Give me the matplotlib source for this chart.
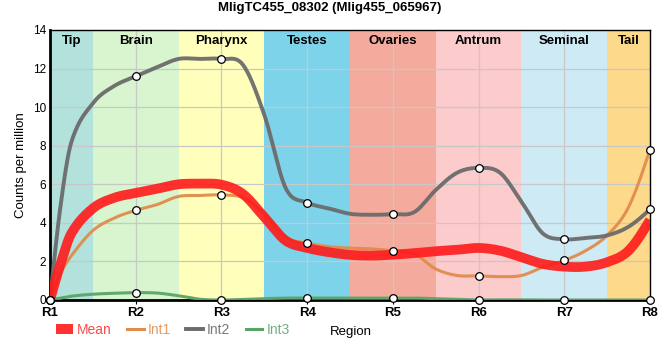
import numpy as np
import matplotlib
matplotlib.use("Agg")
import matplotlib.pyplot as plt
from matplotlib.patches import Patch
from matplotlib.lines import Line2D

plt.rcParams['font.family'] = ['Liberation Sans', 'DejaVu Sans']

title = "MligTC455_08302 (Mlig455_065967)"
regions = ["R1", "R2", "R3", "R4", "R5", "R6", "R7", "R8"]
bands = ["Tip", "Brain", "Pharynx", "Testes", "Ovaries", "Antrum", "Seminal", "Tail"]
band_colors = ["#b3e1dc", "#d8f5d0", "#ffffbb", "#7dd3ea", "#f4ab9d", "#fccbcc", "#ceeaf4", "#fdd98c"]

# values at the regions (marked points)
mean = [0, 5.55, 5.98, 2.70, 2.35, 2.70, 1.73, 4.15]
int1 = [0, 4.65, 5.45, 2.95, 2.55, 1.25, 2.05, 7.80]
int2 = [0, 11.6, 12.5, 5.05, 4.45, 6.85, 3.15, 4.70]
int3 = [0, 0.38, 0.0, 0.10, 0.10, 0.0, 0.0, 0.0]

# curve values read between neighbouring regions (at 1/4, 1/2, 3/4), not marked
mean_between = [(3.46, 4.75, 5.3), (5.77, 6.0, 6.03), (5.5, 4.3, 3.08), (2.48, 2.34, 2.3),
                (2.43, 2.53, 2.6), (2.56, 2.22, 1.87), (1.73, 1.96, 2.56)]
int1_between = [(2.3, 3.6, 4.25), (4.95, 5.37, 5.42), (5.3, 4.47, 3.26), (2.77, 2.69, 2.65),
                (2.39, 1.61, 1.27), (1.21, 1.27, 1.7), (2.56, 3.35, 4.82)]
int2_between = [(8.2, 10.2, 11.1), (12.07, 12.5, 12.5), (12.2, 9.6, 5.8), (4.75, 4.47, 4.42),
                (4.56, 5.7, 6.6), (6.6, 5.1, 3.45), (3.22, 3.35, 3.8)]
int3_between = [(0.2, 0.3, 0.35), (0.36, 0.22, 0.04), (0.03, 0.07, 0.1), (0.1, 0.1, 0.1),
                (0.1, 0.07, 0.03), (0.01, 0.0, 0.0), (0.0, 0.0, 0.0)]
# steep start: value read at 1/8 of the way from R1 to R2
start = {"mean": 1.9, "int1": 1.4, "int2": 4.95, "int3": 0.1}


def smooth(x, y, xs):
    # Catmull-Rom style cubic Hermite through the read points, natural ends
    x = np.asarray(x, float)
    y = np.asarray(y, float)
    h = np.diff(x)
    d = np.diff(y) / h
    m = np.empty_like(y)
    m[1:-1] = (y[2:] - y[:-2]) / (x[2:] - x[:-2])
    m[0] = (3 * d[0] - m[1]) / 2
    m[-1] = (3 * d[-1] - m[-2]) / 2
    idx = np.clip(np.searchsorted(x, xs) - 1, 0, len(x) - 2)
    t = (xs - x[idx]) / h[idx]
    h00 = 2 * t**3 - 3 * t**2 + 1
    h10 = t**3 - 2 * t**2 + t
    h01 = -2 * t**3 + 3 * t**2
    h11 = t**3 - t**2
    return h00 * y[idx] + h10 * h[idx] * m[idx] + h01 * y[idx + 1] + h11 * h[idx] * m[idx + 1]


def merge(vals, between, first):
    out = []
    for i, v in enumerate(vals):
        out.append(v)
        if i == 0:
            out.append(first)
        if i < len(between):
            out.extend(between[i])
    return out


xr = np.arange(len(regions))
xq = np.arange(0, len(regions) - 0.9, 0.25)
xk = np.insert(xq, 1, 0.125)
xs = np.linspace(0, len(regions) - 1, 900)

fig = plt.figure(figsize=(6.6, 3.6), dpi=100)
ax = fig.add_axes([50 / 660, 60 / 360, 600 / 660, 270 / 360])

# background bands
for i, (name, col) in enumerate(zip(bands, band_colors)):
    lo = max(i - 0.5, 0)
    hi = min(i + 0.5, len(regions) - 1)
    ax.axvspan(lo, hi, color=col, lw=0, zorder=0)
    ax.text((lo + hi) / 2, 0.96, name, transform=ax.get_xaxis_transform(),
            ha='center', va='center', fontsize=9.5, fontweight='bold', zorder=5)

ax.grid(True, color='#c8c8c8', lw=0.9, zorder=1)

series = [
    ("int1", int1, int1_between, "#e08c4c", 2.2),
    ("int2", int2, int2_between, "#6b6b6b", 2.8),
    ("int3", int3, int3_between, "#5aa468", 2.2),
]
for name, vals, between, col, lw in series:
    ys = np.maximum(smooth(xk, merge(vals, between, start[name]), xs), 0)
    ax.plot(xs, ys, color=col, lw=lw, alpha=0.95, zorder=3, solid_capstyle='butt')

ys = smooth(xk, merge(mean, mean_between, start["mean"]), xs)
ax.plot(xs, ys, color="#ff1a1a", lw=7, alpha=0.9, zorder=4, solid_capstyle='butt')

for name, vals, between, col, lw in series:
    ax.plot(xr, vals, ls='none', marker='o', ms=5.5, mfc='white', mec='black', mew=0.9,
            zorder=6, clip_on=False)

ax.set_xlim(0, len(regions) - 1)
ax.set_ylim(0, 14)
ax.set_yticks(range(0, 15, 2))
ax.set_xticks(xr)
ax.set_xticklabels(regions, fontsize=9.5, fontweight='bold')
ax.tick_params(axis='y', labelsize=8.5, length=0, pad=3)
ax.tick_params(axis='x', length=3, width=0.8, pad=2)
for s in ['left', 'bottom']:
    ax.spines[s].set_linewidth(2)
for s in ['top', 'right']:
    ax.spines[s].set_linewidth(1)
ax.set_ylabel("Counts per million", fontsize=9.5, labelpad=4)

fig.suptitle(title, x=0.5, y=0.995, fontsize=9.5, fontweight='bold', va='top')

handles = [
    Patch(facecolor="#ff1a1a", alpha=0.9),
    Line2D([], [], color="#e08c4c", lw=2.2),
    Line2D([], [], color="#6b6b6b", lw=2.8),
    Line2D([], [], color="#5aa468", lw=2.2),
]
leg = fig.legend(handles, ["Mean", "Int1", "Int2", "Int3"], loc='center left',
                 bbox_to_anchor=(56 / 660, 1 - 330 / 360), ncol=4, frameon=False,
                 fontsize=10, handlelength=1.2, handletextpad=0.3, columnspacing=1.1,
                 borderaxespad=0, borderpad=0)
for t, c in zip(leg.get_texts(), ["#ff4a4a", "#e59a62", "#7a7a7a", "#6fb07c"]):
    t.set_color(c)
fig.text(351 / 660, 1 - 332 / 360, "Region", ha='center', va='center', fontsize=9.5)

fig.savefig("out.png", dpi=100)
